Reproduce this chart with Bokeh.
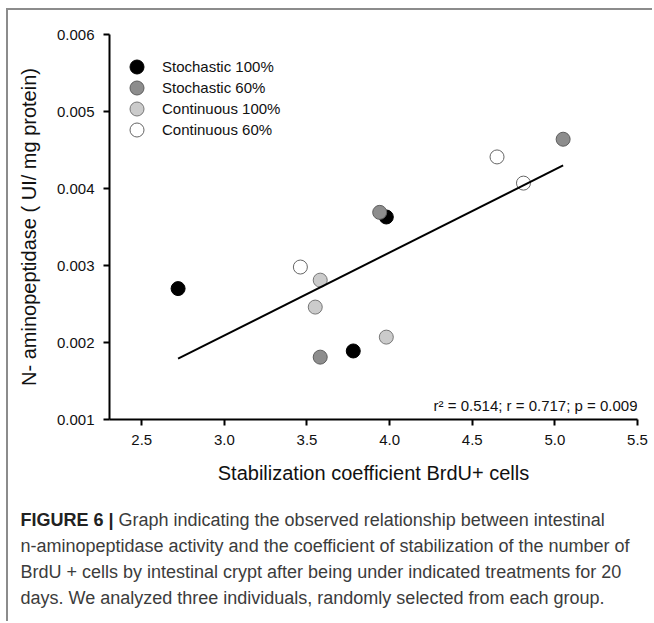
from bokeh.plotting import figure
from bokeh.models import (Label, Range1d, Legend, LegendItem, FixedTicker,
                          PrintfTickFormatter)
from bokeh.embed import file_html
from bokeh.resources import INLINE

# ---- data ----
groups = ["Stochastic 100%", "Stochastic 60%", "Continuous 100%", "Continuous 60%"]
fill_colors = ["#000000", "#8d8d8d", "#cbcbcb", "#ffffff"]
edge_colors = ["#000000", "#5e5e5e", "#777777", "#666666"]

stoch100_x = [2.72, 3.78, 3.98]
stoch100_y = [0.00270, 0.00189, 0.00363]
stoch60_x = [3.58, 3.94, 5.05]
stoch60_y = [0.00181, 0.00369, 0.00464]
cont100_x = [3.58, 3.55, 3.98]
cont100_y = [0.00281, 0.00246, 0.00207]
cont60_x = [3.46, 4.65, 4.81]
cont60_y = [0.00298, 0.00441, 0.00407]

fit_x = [2.72, 5.05]
fit_y = [0.00179, 0.00430]

x_ticks = [2.5, 3.0, 3.5, 4.0, 4.5, 5.0, 5.5]
y_ticks = [0.001, 0.002, 0.003, 0.004, 0.005, 0.006]

stats_text = "r\u00b2 = 0.514; r = 0.717; p = 0.009"
x_title = "Stabilization coefficient BrdU+ cells"
y_title = "N- aminopeptidase ( UI/ mg protein)"
caption_bold = "FIGURE 6 |"
caption_lines = [
    "Graph indicating the observed relationship between intestinal",
    "n-aminopeptidase activity and the coefficient of stabilization of the number of",
    "BrdU + cells by intestinal crypt after being under indicated treatments for 20",
    "days. We analyzed three individuals, randomly selected from each group.",
]

FONT = "Liberation Sans"
BORDER = "2px solid #8c8c8c"
W = 646
CHART_H = 490
CAP_H = 123

p = figure(width=W, height=CHART_H, output_backend="svg", toolbar_location=None,
           x_range=Range1d(2.305, 5.5), y_range=Range1d(0.001, 0.006),
           min_border_left=101, min_border_right=17, min_border_top=24,
           min_border_bottom=81)
p.outline_line_color = None
p.grid.visible = False
p.styles = {"margin-left": "6px", "margin-top": "8px",
            "border-left": BORDER, "border-top": BORDER}

for ax in (p.xaxis[0], p.yaxis[0]):
    ax.axis_line_width = 2
    ax.axis_line_color = "black"
    ax.major_tick_line_width = 2
    ax.major_tick_line_color = "black"
    ax.major_tick_in = 0
    ax.major_tick_out = 6
    ax.minor_tick_line_color = None
    ax.major_label_text_font = FONT
    ax.major_label_text_font_size = "15px"
    ax.major_label_text_color = "#111111"
    ax.axis_label_text_font = FONT
    ax.axis_label_text_font_size = "20px"
    ax.axis_label_text_font_style = "normal"
    ax.axis_label_text_color = "#111111"

p.xaxis.ticker = FixedTicker(ticks=x_ticks)
p.yaxis.ticker = FixedTicker(ticks=y_ticks)
p.xaxis.formatter = PrintfTickFormatter(format="%.1f")
p.yaxis.formatter = PrintfTickFormatter(format="%.3f")
p.xaxis.major_label_standoff = 9
p.yaxis.major_label_standoff = 9
p.xaxis.axis_label = x_title
p.yaxis.axis_label = y_title
p.xaxis.axis_label_standoff = 14
p.yaxis.axis_label_standoff = 14

series = [(stoch100_x, stoch100_y), (stoch60_x, stoch60_y),
          (cont100_x, cont100_y), (cont60_x, cont60_y)]
renderers = []
for (xs, ys), fc, ec in zip(series, fill_colors, edge_colors):
    r = p.scatter(xs, ys, size=14, marker="circle", fill_color=fc,
                  line_color=ec, line_width=1)
    renderers.append(r)

p.line(fit_x, fit_y, line_color="black", line_width=2)

# one single-item legend per group so that the rows can sit closer than the glyph box
for i, (g, r) in enumerate(zip(groups, renderers)):
    lg = Legend(items=[LegendItem(label=g, renderers=[r])],
                location=(10, 335 - 21 * i), orientation="vertical",
                glyph_width=35, glyph_height=35, label_height=35, spacing=0,
                padding=0, margin=0, label_standoff=8,
                label_text_font=FONT, label_text_font_size="15px",
                label_text_color="#111111", label_text_baseline="middle",
                border_line_color=None, background_fill_alpha=0)
    p.add_layout(lg)

p.add_layout(Label(x=5.5, y=0.00118, text=stats_text, text_align="right",
                   text_baseline="middle", text_font=FONT,
                   text_font_size="15px", text_color="#111111"))

# caption as its own root figure, in pixel units (y pointing down)
c = figure(width=W, height=CAP_H, output_backend="svg", toolbar_location=None,
           x_range=Range1d(0, W), y_range=Range1d(CAP_H, 0),
           min_border=0, min_border_left=0, min_border_right=0,
           min_border_top=0, min_border_bottom=0)
c.axis.visible = False
c.grid.visible = False
c.outline_line_color = None
c.styles = {"margin-left": "6px", "border-left": BORDER}

cap_y0 = 21
cap_dy = 26
c.add_layout(Label(x=12, y=cap_y0, text=caption_bold, text_font=FONT,
                   text_font_size="18px", text_font_style="bold",
                   text_color="#222222", text_baseline="middle"))
for i, line in enumerate(caption_lines):
    x0 = 12 + (98 if i == 0 else 0)
    c.add_layout(Label(x=x0, y=cap_y0 + i * cap_dy, text=line, text_font=FONT,
                       text_font_size="18px", text_color="#3c3c3c",
                       text_baseline="middle"))

open("out.html", "w").write(file_html([p, c], INLINE))
